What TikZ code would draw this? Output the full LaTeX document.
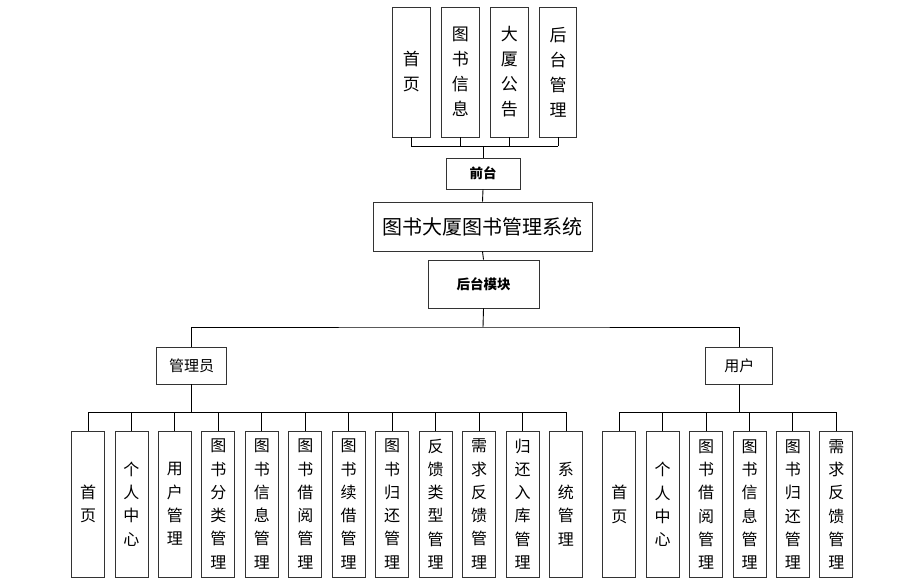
\documentclass[tikz,border=0pt]{standalone}
\usepackage{fontspec}
\setmainfont{Noto Sans CJK SC}
\begin{document}
\begin{tikzpicture}[x=1pt,y=-1pt,
  box/.style={draw=black!80, line width=0.8pt, fill=white, inner sep=0pt, align=center},
  topbox/.style={box, minimum width=37.5pt, minimum height=130pt, font=\fontsize{17}{25}\selectfont},
  leafbox/.style={box, minimum width=33pt, minimum height=146pt, font=\fontsize{16}{23.3}\selectfont},
  smallbox/.style={box, font=\fontsize{13.5}{16}\selectfont\bfseries},
  rolebox/.style={box, minimum height=37pt, font=\fontsize{15}{18}\selectfont},
  link/.style={draw=black, line width=0.9pt}]
\useasboundingbox (0,0) rectangle (907,583);
\fill[white] (0,0) rectangle (907,583);

% top level
\node[topbox] (t1) at (411.3,72) {首\\页};
\node[topbox] (t2) at (460.3,72) {图\\书\\信\\息};
\node[topbox] (t3) at (509.3,72) {大\\厦\\公\\告};
\node[topbox] (t4) at (558,72) {后\\台\\管\\理};
\node[smallbox, minimum width=74pt, minimum height=31pt] (qt) at (483,173.5) {前台};
\node[box, minimum width=219pt, minimum height=49pt, font=\fontsize{20}{24}\selectfont] (sys) at (482.5,226.5) {图书大厦图书管理系统};
\node[smallbox, minimum width=111pt, minimum height=48pt] (ht) at (483.5,284) {后台模块};
\node[rolebox, minimum width=70pt] (adm) at (191.7,365.5) {管理员};
\node[rolebox, minimum width=67pt] (usr) at (739.3,365.5) {用户};

% admin leaves
\foreach \t [count=\i from 0] in {首\\页, 个\\人\\中\\心, 用\\户\\管\\理, 图\\书\\分\\类\\管\\理, 图\\书\\信\\息\\管\\理, 图\\书\\借\\阅\\管\\理, 图\\书\\续\\借\\管\\理, 图\\书\\归\\还\\管\\理, 反\\馈\\类\\型\\管\\理, 需\\求\\反\\馈\\管\\理, 归\\还\\入\\库\\管\\理, 系\\统\\管\\理}
  \node[leafbox] (a\i) at ({88+43.45*\i},504) {\t};
% user leaves
\foreach \t [count=\i from 0] in {首\\页, 个\\人\\中\\心, 图\\书\\借\\阅\\管\\理, 图\\书\\信\\息\\管\\理, 图\\书\\归\\还\\管\\理, 需\\求\\反\\馈\\管\\理}
  \node[leafbox] (u\i) at ({619.3+43.4*\i},504.5) {\t};

% bus coordinates
\coordinate (tbus) at (483,146);
\coordinate (rbus) at (483,327);
\coordinate (abus) at (191.7,412);
\coordinate (ubus) at (739.3,412);

% top connectors
\foreach \n in {t1,t2,t3,t4} \draw[link] (\n.south) -- (\n.south |- tbus);
\draw[link] (t1.south |- tbus) -- (t4.south |- tbus);
\draw[link] (tbus) -- (qt.north);
\draw[link] (qt.south) -- (sys.north);
\draw[link] (sys.south) -- (ht.north);
\draw[link] (ht.south) -- (rbus);
\draw[link] (adm.north) |- (rbus) -| (usr.north);
\draw[link] (adm.south) -- (abus);
\draw[link] (usr.south) -- (ubus);
\draw[link] (a0.north |- abus) -- (a11.north |- abus);
\foreach \i in {0,...,11} \draw[link] (a\i.north |- abus) -- (a\i.north);
\draw[link] (u0.north |- ubus) -- (u5.north |- ubus);
\foreach \i in {0,...,5} \draw[link] (u\i.north |- ubus) -- (u\i.north);
\end{tikzpicture}
\end{document}
